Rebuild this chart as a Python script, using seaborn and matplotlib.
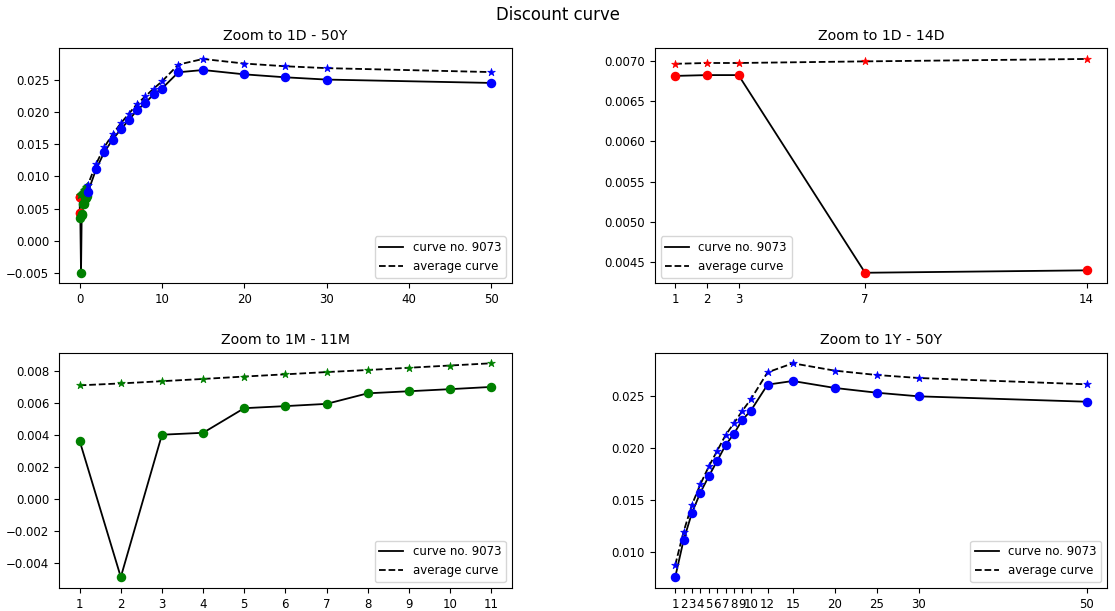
import matplotlib
matplotlib.use('Agg')
import matplotlib.pyplot as plt
import numpy as np
import pandas as pd
import seaborn as sns

# tenors
days = [1, 2, 3, 7, 14]
months = [1, 2, 3, 4, 5, 6, 7, 8, 9, 10, 11]
years = [1, 2, 3, 4, 5, 6, 7, 8, 9, 10, 12, 15, 20, 25, 30, 50]

# curve no. 9073
curve_days = [0.00681, 0.00682, 0.00682, 0.00437, 0.00440]
curve_months = [0.00362, -0.00490, 0.00401, 0.00413, 0.00567, 0.00580,
                0.00594, 0.00660, 0.00673, 0.00686, 0.00700]
curve_years = [0.00755, 0.01113, 0.01377, 0.01571, 0.01729, 0.01877, 0.02029,
               0.02140, 0.02274, 0.02361, 0.02613, 0.02648, 0.02581, 0.02535,
               0.02500, 0.02448]

# average curve
avg_days = [0.00696, 0.00697, 0.00697, 0.00699, 0.00702]
avg_months = [0.00710, 0.00722, 0.00736, 0.00750, 0.00765, 0.00779,
              0.00793, 0.00806, 0.00820, 0.00834, 0.00848]
avg_years = [0.00871, 0.01194, 0.01455, 0.01652, 0.01823, 0.01974, 0.02126,
             0.02242, 0.02361, 0.02471, 0.02732, 0.02819, 0.02748, 0.02706,
             0.02677, 0.02616]

# picture looks like a scaled-down figure, so shrink fonts a bit
plt.rcParams.update({
    'font.size': 8.5,
    'axes.titlesize': 10.2,
    'xtick.labelsize': 8.5,
    'ytick.labelsize': 8.5,
    'legend.fontsize': 8.5,
    'lines.linewidth': 1.3,
})


def draw(ax, x, curve, avg, colors):
    df = pd.DataFrame({'x': x, 'curve': curve, 'avg': avg, 'c': colors})
    sns.lineplot(data=df, x='x', y='curve', color='black', ax=ax,
                 label='curve no. 9073', estimator=None, sort=False, zorder=1)
    sns.lineplot(data=df, x='x', y='avg', color='black', linestyle='--', ax=ax,
                 label='average curve', estimator=None, sort=False, zorder=1)
    for col in df['c'].unique():
        sub = df[df['c'] == col]
        sns.scatterplot(data=sub, x='x', y='curve', color=col, marker='o', s=34,
                        edgecolor=col, linewidth=1, ax=ax, zorder=2, legend=False)
        sns.scatterplot(data=sub, x='x', y='avg', color=col, marker='*', s=34,
                        edgecolor=col, linewidth=0.5, ax=ax, zorder=2, legend=False)
    ax.set_xlabel('')
    ax.set_ylabel('')


fig, axes = plt.subplots(2, 2, figsize=(11.15, 6.11), dpi=100)
fig.subplots_adjust(left=0.053, right=0.993, top=0.921, bottom=0.038,
                    wspace=0.316, hspace=0.294)

# 1D - 50Y in years
x_all = [d / 365 for d in days] + [m / 12 for m in months] + years
c_all = ['red'] * len(days) + ['green'] * len(months) + ['blue'] * len(years)
ax = axes[0, 0]
draw(ax, x_all, curve_days + curve_months + curve_years,
     avg_days + avg_months + avg_years, c_all)
ax.set_title('Zoom to 1D - 50Y')
ax.legend(loc='lower right')

ax = axes[0, 1]
draw(ax, days, curve_days, avg_days, ['red'] * len(days))
ax.set_xticks(days)
ax.set_title('Zoom to 1D - 14D')
ax.legend(loc='lower left')

ax = axes[1, 0]
draw(ax, months, curve_months, avg_months, ['green'] * len(months))
ax.set_xticks(months)
ax.set_title('Zoom to 1M - 11M')
ax.legend(loc='lower right')

ax = axes[1, 1]
draw(ax, years, curve_years, avg_years, ['blue'] * len(years))
ax.set_xticks(years)
ax.set_title('Zoom to 1Y - 50Y')
ax.legend(loc='lower right')

fig.suptitle('Discount curve', fontsize=11.9, y=0.99)
fig.savefig('out.png', dpi=100)
